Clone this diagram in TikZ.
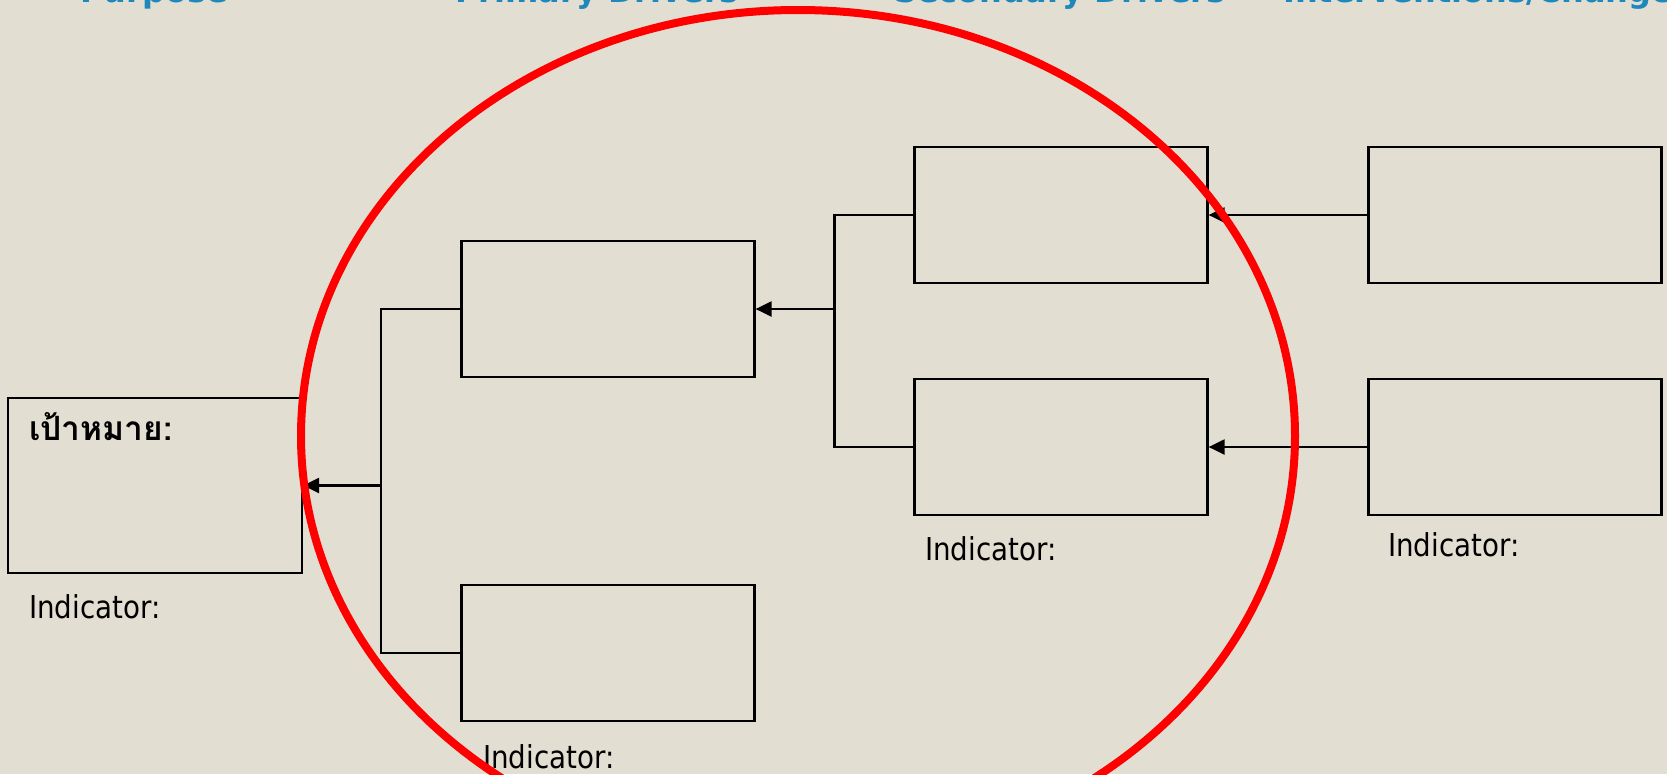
\documentclass[tikz,border=0pt]{standalone}
\usepackage{fontspec}
\setmainfont{DejaVu Sans}
\newfontfamily\thaifont[Script=Thai]{Loma}
\newfontfamily\indfont[FakeStretch=0.88]{DejaVu Sans}
\usetikzlibrary{arrows.meta}
\definecolor{bg}{RGB}{227,222,210}
\definecolor{hdr}{RGB}{28,136,188}
\begin{document}
\begin{tikzpicture}[x=1pt,y=-1pt,
  box/.style={draw=black, line width=2.2pt, inner sep=0pt, minimum height=136pt, minimum width=293pt},
  link/.style={draw=black, line width=2.2pt},
  arr/.style={link, -{Triangle[length=16pt,width=15pt]}},
  hdrtext/.style={anchor=base west, inner sep=0pt, font=\fontsize{32}{38}\selectfont\bfseries, text=hdr},
  ind/.style={anchor=base west, inner sep=0pt, font=\indfont\fontsize{31.5}{36}\selectfont},
  ring/.style={draw=red, line width=8pt}]
\useasboundingbox (0,0) rectangle (1667,774);
\clip (0,0) rectangle (1667,774);
\fill[bg] (0,0) rectangle (1667,774);

% headers
\node[hdrtext] (h1) at (80,2.5) {Purpose};
\node[hdrtext] (h2) at (455,2.5) {Primary Drivers};
\node[hdrtext] (h3) at (894,2.5) {Secondary Drivers};
\node[hdrtext] (h4) at (1283,2.5) {Interventions/Changes};

% boxes
\node[box, minimum width=294pt, minimum height=175pt] (goal) at (155,485.5) {};
\node[box] (p1) at (608,309) {};
\node[box] (p2) at (608,653) {};
\node[box] (s1) at (1061,215) {};
\node[box] (s2) at (1061,447) {};
\node[box] (i1) at (1515,215) {};
\node[box] (i2) at (1515,447) {};

% texts
\node[anchor=base west, inner sep=0pt, font=\thaifont\fontsize{33.5}{40}\selectfont\bfseries] (goaltxt) at (29,440) {เป้าหมาย:};
\node[ind] (ig) at (29,618) {Indicator:};
\node[ind] (ip) at (483,768) {Indicator:};
\node[ind] (is) at (925,560) {Indicator:};
\node[ind] (ii) at (1388,556) {Indicator:};

% connectors
\coordinate (j1) at (381,485.5);
\coordinate (j2) at (834.5,309);
\draw[link] (p1.west) -| (j1) |- (p2.west);
\draw[arr] (j1) -- (goal.east);
\draw[link] (s1.west) -| (j2) |- (s2.west);
\draw[arr] (j2) -- (p1.east);
\draw[arr] (i1.west) -- (s1.east);
\draw[arr] (i2.west) -- (s2.east);

% red ring
\draw[ring] (798,436) ellipse [x radius=497pt, y radius=426pt];
\end{tikzpicture}
\end{document}
